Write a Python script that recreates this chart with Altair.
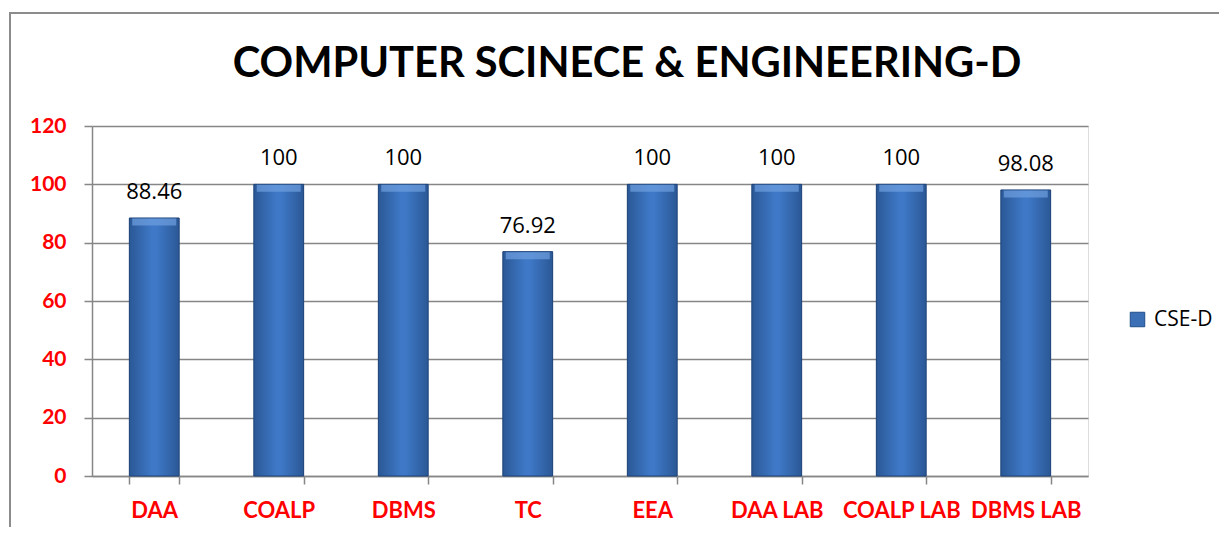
import altair as alt
import pandas as pd

categories = ["DAA", "COALP", "DBMS", "TC", "EEA", "DAA LAB", "COALP LAB", "DBMS LAB"]
values = [88.46, 100, 100, 76.92, 100, 100, 100, 98.08]
labels = ["88.46", "100", "100", "76.92", "100", "100", "100", "98.08"]
series = ["CSE-D"] * len(categories)

df = pd.DataFrame({"subject": categories, "score": values, "label": labels, "series": series})

W, H = 996, 350

x = alt.X("subject:N", sort=categories, title=None,
          scale=alt.Scale(paddingInner=0.6, paddingOuter=0.3),
          axis=alt.Axis(labelColor="#ff0000", labelFont="Lato", labelFontWeight="bold",
                        labelFontSize=22, labelAngle=0, labelPadding=16,
                        domainColor="#868686", domainWidth=1.5, tickColor="#868686",
                        tickWidth=1.5, tickSize=8, tickBand="extent", grid=False))
y = alt.Y("score:Q", title=None,
          scale=alt.Scale(domain=[0, 120], nice=False),
          axis=alt.Axis(values=[0, 20, 40, 60, 80, 100, 120], labelColor="#ff0000",
                        labelFont="Lato", labelFontWeight="bold", labelFontSize=21,
                        labelPadding=18, domainColor="#868686", domainWidth=1.5,
                        tickColor="#868686", tickWidth=1.5, tickSize=8,
                        gridColor="#868686", gridWidth=1.5))

base = alt.Chart(df)

legend_bars = base.mark_bar().encode(
    x=x, y=y,
    color=alt.Color("series:N", title=None,
                    scale=alt.Scale(range=["#3b6fb6"]),
                    legend=alt.Legend(orient="none", legendX=1035, legendY=183,
                                      symbolType="square", symbolSize=210,
                                      symbolStrokeColor="#1f4e8a", symbolStrokeWidth=1,
                                      labelFont="Open Sans", labelFontSize=21,
                                      labelColor="#000000", labelOffset=6)),
)

grad = alt.Gradient(
    gradient="linear", x1=0, x2=1, y1=0, y2=0,
    stops=[alt.GradientStop(offset=0, color="#2b5896"),
           alt.GradientStop(offset=0.45, color="#3e78c6"),
           alt.GradientStop(offset=0.55, color="#3e78c6"),
           alt.GradientStop(offset=1, color="#2b5896")],
)

bars = base.mark_bar(fill=grad, stroke="#1f4478", strokeWidth=1).encode(x=x, y=y)

top_bevel = base.mark_tick(color="#6f9fe0", thickness=7, size=44, yOffset=4).encode(
    x=x, y=y)

text = base.mark_text(font="Open Sans", fontSize=22, color="#000000",
                      baseline="bottom", dy=-14).encode(
    x=x, y=y, text="label:N")

frame = alt.Chart(pd.DataFrame({"k": [0]})).mark_rect(
    fill=None, stroke="#8c8c8c", strokeWidth=2).encode(
    x=alt.value(-82), x2=alt.value(1200), y=alt.value(-113), y2=alt.value(500))

chart = alt.layer(frame, legend_bars, bars, top_bevel, text).properties(
    width=W, height=H,
    title=alt.TitleParams("COMPUTER SCINECE & ENGINEERING-D", font="Lato",
                          fontSize=41.6, fontWeight="bold", color="#000000",
                          anchor="middle", frame="group", dx=37, dy=74, offset=0),
    autosize=alt.AutoSizeParams(type="none"),
    padding={"left": 84, "top": 118, "right": 131, "bottom": 51},
).configure_view(stroke=None).configure(background="#ffffff")

chart.save("out.html", embed_options={"renderer": "svg", "actions": False})
